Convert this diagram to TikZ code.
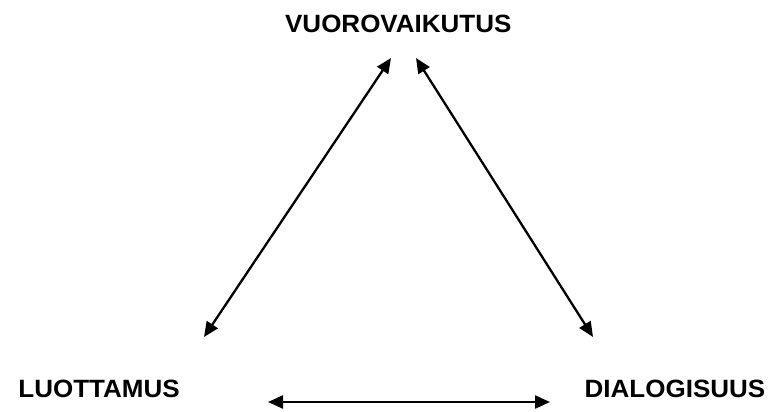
\documentclass[tikz,border=0pt]{standalone}
\usepackage{fontspec}
\setmainfont{Liberation Sans}
\usetikzlibrary{arrows.meta}
\tikzset{
  lbl/.style={inner sep=0pt, xscale=1.04, font=\fontsize{25}{30}\selectfont\bfseries},
  tip/.tip={Triangle[length=15pt,width=13pt]},
  dblarrow/.style={line width=2.3pt, tip-tip}
}
\begin{document}
\begin{tikzpicture}[x=1pt,y=-1pt]
\useasboundingbox (0,0) rectangle (771,412);
\node[lbl, anchor=base] (vuoro) at (398.3,32.7) {VUOROVAIKUTUS};
\node[lbl, anchor=base] (luott) at (99,397.7) {LUOTTAMUS};
\node[lbl, anchor=base] (dialo) at (675,397.7) {DIALOGISUUS};
\coordinate (lt) at (391,58);
\coordinate (lb) at (204,337);
\coordinate (rt) at (416,58);
\coordinate (rb) at (593,337);
\coordinate (hl) at (268,402);
\coordinate (hr) at (550,402);
\draw[dblarrow] (lb) -- (lt);
\draw[dblarrow] (rt) -- (rb);
\draw[dblarrow] (hl) -- (hr);
\end{tikzpicture}
\end{document}
